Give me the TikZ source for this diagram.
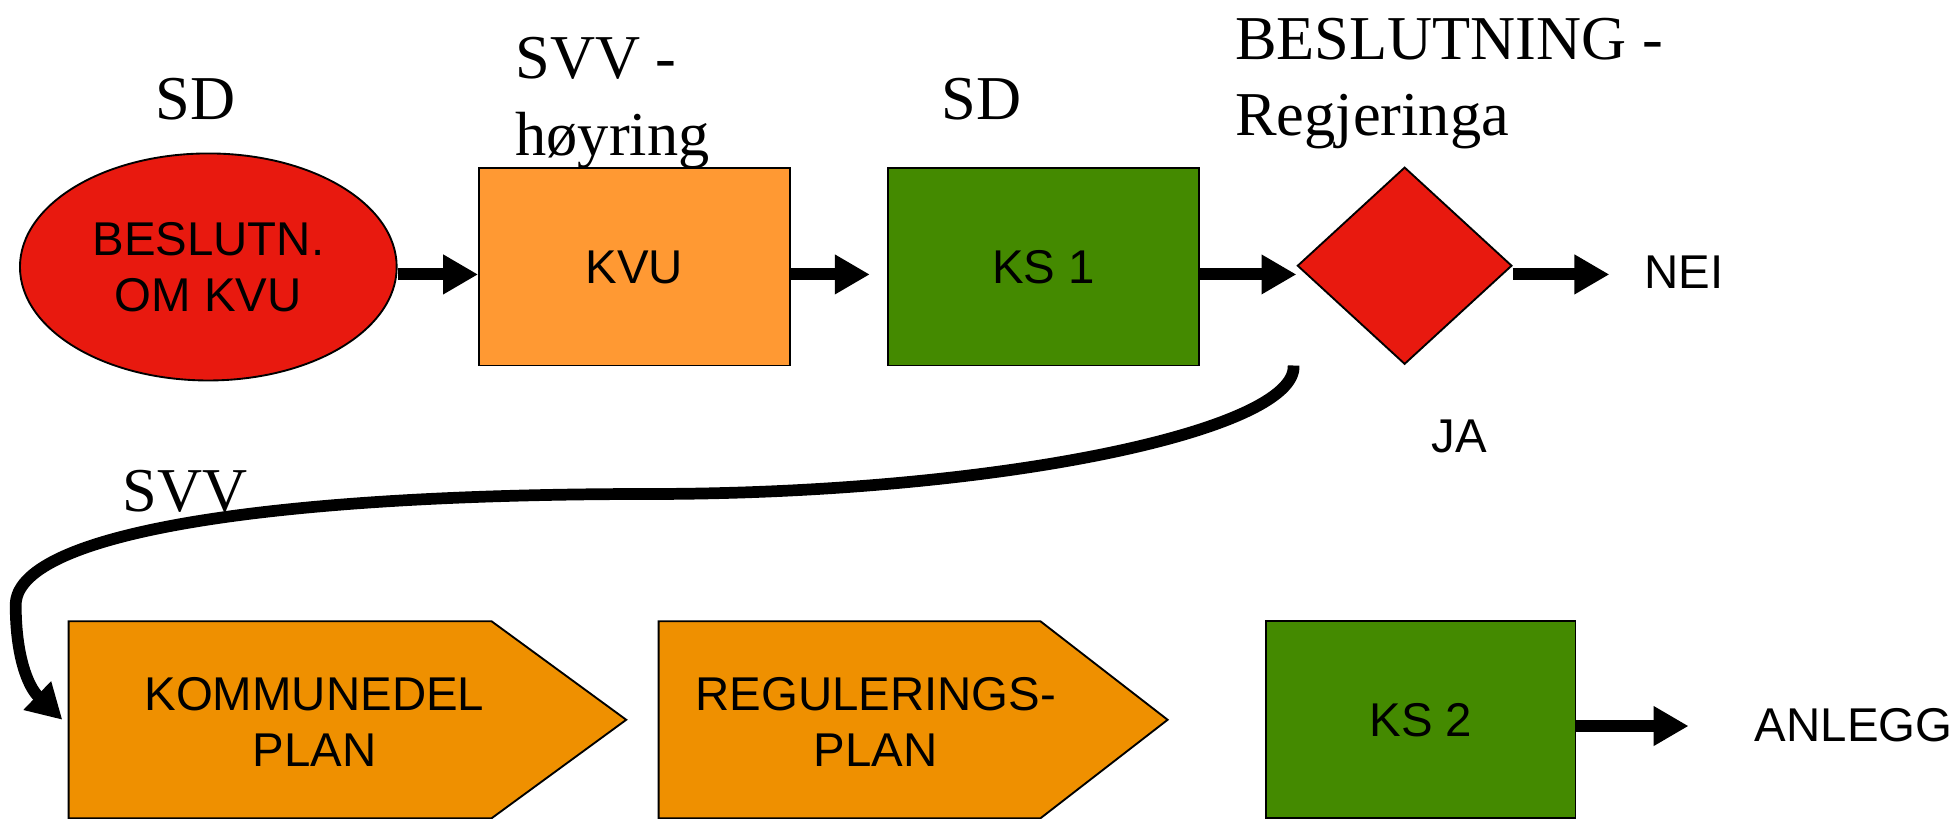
\documentclass[tikz,border=0pt]{standalone}
\usepackage{fontspec}
\setmainfont{Liberation Serif}
\newfontfamily\arialf{Liberation Sans}
\usetikzlibrary{shapes.geometric,arrows.meta}
\definecolor{cred}{HTML}{E8190F}
\definecolor{clight}{HTML}{FF9933}
\definecolor{cgreen}{HTML}{448A00}
\definecolor{cdark}{HTML}{EF9000}
\begin{document}
\begin{tikzpicture}[x=1pt,y=-1pt,
  shape box/.style={draw=black, line width=1.5pt, inner sep=0pt},
  sanstext/.style={font=\arialf\fontsize{38}{45}\selectfont, align=center, inner sep=0pt},
  seriftext/.style={font=\fontsize{50}{61}\selectfont, align=left, inner sep=0pt},
  flow/.style={line width=9.6pt, -{Triangle[length=28pt,width=30pt]}}]
\useasboundingbox (0,0) rectangle (1568,656);

% top row
\node[shape box, ellipse, fill=cred, minimum width=302pt, minimum height=182pt, sanstext] (e) at (167,214) {BESLUTN.\\OM KVU};
\node[shape box, rectangle, fill=clight, minimum width=249pt, minimum height=158pt, sanstext] (kvu) at (508.5,214) {KVU};
\node[shape box, rectangle, fill=cgreen, minimum width=249pt, minimum height=158pt, sanstext] (ks1) at (836.5,214) {KS 1};
\node[shape box, diamond, fill=cred, minimum width=172pt, minimum height=158pt] (d) at (1126,213) {};
\node[sanstext] (nei) at (1350,218) {NEI};
\node[sanstext] (ja) at (1170,350) {JA};

\node[seriftext, anchor=base] (sd1) at (157,96) {SD};
\node[seriftext, anchor=base] (sd2) at (787,96) {SD};
\node[seriftext, anchor=north west] (svv1) at (413,30) {SVV -\\høyring};
\node[seriftext, anchor=north west] (besl) at (990,14) {BESLUTNING -\\Regjeringa};
\node[seriftext, anchor=base west] (svv2) at (98,410) {SVV};

\draw[flow] ([yshift=-6pt]e.east) -- ([yshift=-6pt]kvu.west);
\draw[flow, shorten >=14pt] ([yshift=-6pt]kvu.east) -- ([yshift=-6pt]ks1.west);
\draw[flow] ([yshift=-6pt]ks1.east) -- ([yshift=-6pt]ks1.east -| d.west);
\draw[flow, shorten >=28pt] ([yshift=-7pt]d.east) -- ([yshift=-7pt]d.east -| nei.west);

% bottom row
\filldraw[fill=cdark, draw=black, line width=1.5pt] (55,498) -- (394,498) -- (502,577) -- (394,656) -- (55,656) -- cycle;
\node[sanstext] (k1) at (252,579) {KOMMUNEDEL\\PLAN};
\filldraw[fill=cdark, draw=black, line width=1.5pt] (528,498) -- (834,498) -- (936,577) -- (834,656) -- (528,656) -- cycle;
\node[sanstext] (k2) at (702,579) {REGULERINGS-\\PLAN};
\node[shape box, rectangle, fill=cgreen, minimum width=248pt, minimum height=158pt, sanstext] (ks2) at (1139,577) {KS 2};
\node[sanstext] (anl) at (1486,581) {ANLEGG};
\draw[flow, shorten >=53pt] ([yshift=-5pt]ks2.east) -- ([yshift=-5pt]ks2.east -| anl.west);

% curved connector
\coordinate (cstart) at (1037,293);
\coordinate (cend) at (50,577);
\draw[line width=9.4pt, -{Triangle[length=28pt,width=30pt]}] (cstart) .. controls (1040,345) and (800,396) .. (520,396) .. controls (200,396) and (12.6,430) .. (12.6,485) .. controls (12.6,525) and (22,550) .. (cend);
\end{tikzpicture}
\end{document}
